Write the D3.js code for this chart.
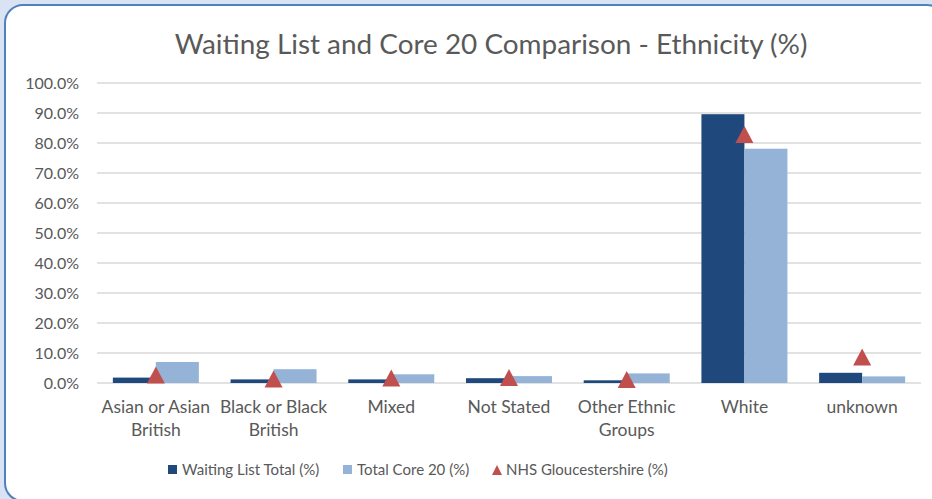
<!DOCTYPE html>
<html><head><meta charset="utf-8">
<script src="https://cdn.jsdelivr.net/npm/d3@7"></script>
<style>
html,body{margin:0;padding:0;background:#d9e3f3;}
svg{display:block;}
</style></head>
<body>
<svg id="chart" width="932" height="499"></svg>
<script>
const categories = [["Asian or Asian","British"],["Black or Black","British"],["Mixed"],["Not Stated"],["Other Ethnic","Groups"],["White"],["unknown"]];
const waitingList = [1.8, 1.2, 1.2, 1.6, 0.9, 89.6, 3.4];
const core20 = [7.0, 4.6, 2.9, 2.3, 3.2, 78.1, 2.2];
const nhsGlos = [2.7, 1.3, 1.7, 1.8, 1.2, 82.8, 8.7];
const yTicks = [0,10,20,30,40,50,60,70,80,90,100];
const seriesNames = ["Waiting List Total (%)", "Total Core 20 (%)", "NHS Gloucestershire (%)"];
const colors = ["#1f497d", "#95b3d7", "#c0504d"];

(function(){
const svg = d3.select("#chart");
const font = "Lato, 'Open Sans', sans-serif";
const textCol = "#595959";

svg.append("rect").attr("x",5).attr("y",5).attr("width",940).attr("height",496).attr("rx",18)
  .attr("fill","#ffffff").attr("stroke","#4f81bd").attr("stroke-width",2);

const pL = 97, pR = 921, pT = 83, pB = 383;
const x = d3.scaleBand().domain(d3.range(categories.length)).range([pL,pR]).paddingInner(0).paddingOuter(0);
const y = d3.scaleLinear().domain([0,100]).range([pB,pT]);
const barW = 43;

svg.append("g").selectAll("line").data(yTicks).join("line")
  .attr("x1",pL).attr("x2",pR).attr("y1",d=>y(d)).attr("y2",d=>y(d))
  .attr("stroke","#d9d9d9").attr("stroke-width",1.5);

const yAxis = d3.axisLeft(y).tickValues(yTicks).tickFormat(d=>d3.format(".1f")(d)+"%").tickSize(0).tickPadding(0);
const yg = svg.append("g").attr("transform",`translate(79,0)`).call(yAxis);
yg.select(".domain").remove();
yg.selectAll("text").attr("font-family",font).attr("font-size",16).attr("fill",textCol).attr("dy","0.35em");

const cx = i => x(i) + x.bandwidth()/2;
svg.append("g").selectAll("rect").data(waitingList).join("rect")
  .attr("x",(d,i)=>cx(i)-barW).attr("width",barW)
  .attr("y",d=>y(d)).attr("height",d=>y(0)-y(d)).attr("fill",colors[0]);
svg.append("g").selectAll("rect").data(core20).join("rect")
  .attr("x",(d,i)=>cx(i)).attr("width",barW)
  .attr("y",d=>y(d)).attr("height",d=>y(0)-y(d)).attr("fill",colors[1]);

const tri = (cxp, cyp, w, h) => `M${cxp},${cyp-h/2}L${cxp+w/2},${cyp+h/2}L${cxp-w/2},${cyp+h/2}Z`;
svg.append("g").selectAll("path").data(nhsGlos).join("path")
  .attr("d",(d,i)=>tri(cx(i), y(d), 18, 17)).attr("fill",colors[2]);

const xg = svg.append("g");
categories.forEach((lines,i)=>{
  const t = xg.append("text").attr("x",cx(i)).attr("y",413).attr("text-anchor","middle")
    .attr("font-family",font).attr("font-size",17.5).attr("fill",textCol);
  lines.forEach((l,j)=>t.append("tspan").attr("x",cx(i)).attr("dy", j===0?0:23).text(l));
});

const title = svg.append("text").attr("x",491).attr("y",54).attr("text-anchor","middle")
  .attr("font-family",font).attr("font-size",24).attr("fill",textCol)
  .text("Waiting List and Core 20 Comparison - Ethnicity (%)");
const tw = title.node().getComputedTextLength();
title.attr("font-size", 24*633/tw);

const lg = svg.append("g");
const legY = 470;
const items = [{x:168, type:"rect"},{x:343, type:"rect"},{x:492, type:"tri"}];
items.forEach((it,i)=>{
  if(it.type==="rect"){
    lg.append("rect").attr("x",it.x).attr("y",legY-5).attr("width",9).attr("height",9).attr("fill",colors[i]);
  } else {
    lg.append("path").attr("d",tri(it.x+5, legY, 10, 10)).attr("fill",colors[i]);
  }
  lg.append("text").attr("x",it.x+14).attr("y",legY).attr("dy","0.35em")
    .attr("font-family",font).attr("font-size",15).attr("fill",textCol).text(seriesNames[i]);
});
})();
</script>
</body></html>
